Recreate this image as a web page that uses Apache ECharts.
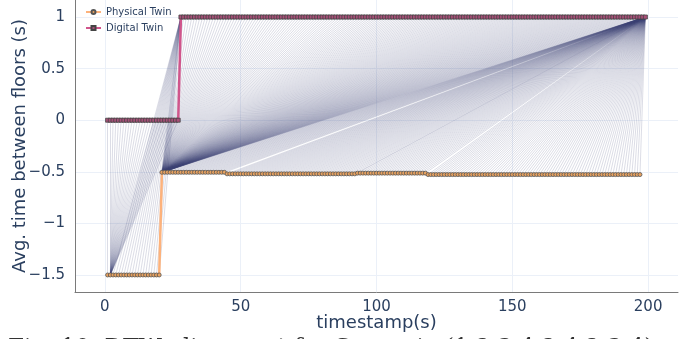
<!DOCTYPE html>
<html>
<head>
<meta charset="utf-8">
<script src="https://cdn.jsdelivr.net/npm/echarts@6/dist/echarts.min.js"></script>
<style>
  html, body { margin: 0; padding: 0; background: #fff; }
  #chart { width: 699px; height: 339px; }
</style>
</head>
<body>
<div id="chart"></div>
<script>
// plateaus: [first second, last second, value]
const physicalRuns = [
  [1, 20, -1.5],
  [21, 44, -0.505],
  [45, 92, -0.52],
  [93, 118, -0.513],
  [119, 197, -0.527]
];
const digitalRuns = [
  [1, 27, 0],
  [28, 199, 1]
];
// warping path pieces: [physical from, physical to, digital from, digital to]
const warpPath = [
  [1, 1, 1, 1],
  [2, 2, 2, 27],
  [3, 20, 28, 28],
  [21, 21, 28, 199],
  [22, 197, 199, 199]
];
const xTicks = [0, 50, 100, 150, 200];
const yTicks = [-1.5, -1, -0.5, 0, 0.5, 1];
const caption = 'Fig. 10. DTW alignment for Scenario (1,2,3,4,2,4,2,3,4)';

function expand(runs) {
  const pts = [];
  runs.forEach(([a, b, v]) => { for (let t = a; t <= b; t++) pts.push([t, v]); });
  return pts;
}
const physical = expand(physicalRuns);
const digital = expand(digitalRuns);
const valueAt = (pts, t) => pts.find(p => p[0] === t)[1];

const links = [];
warpPath.forEach(([p0, p1, d0, d1]) => {
  for (let i = p0; i <= p1; i++)
    for (let j = d0; j <= d1; j++)
      links.push({coords: [[i, valueAt(physical, i)], [j, valueAt(digital, j)]]});
});

const minus = v => (v < 0 ? '\u2212' + (-v) : String(v));
const textColor = '#2a3f5f';
const font = 'DejaVu Sans';

const myChart = echarts.init(document.getElementById('chart'));
myChart.setOption({
  animation: false,
  textStyle: {fontFamily: font, color: textColor},
  grid: {left: 75, right: 21, top: 0, bottom: 47, outerBoundsMode: 'none'},
  legend: {
    orient: 'vertical',
    left: 80,
    top: 2,
    itemWidth: 15,
    itemHeight: 5,
    itemGap: 6,
    textStyle: {fontSize: 10, color: textColor, fontFamily: font},
    data: ['Physical Twin', 'Digital Twin']
  },
  xAxis: {
    type: 'value',
    min: -11,
    max: 211,
    name: 'timestamp(s)',
    nameLocation: 'middle',
    nameGap: 22,
    nameMoveOverlap: false,
    nameTextStyle: {fontSize: 18, color: textColor, fontFamily: font},
    axisLine: {show: true, onZero: false, lineStyle: {color: '#7a7a7a', width: 1}},
    axisTick: {show: false, customValues: xTicks},
    axisLabel: {customValues: xTicks, fontSize: 15, color: textColor, margin: 8, fontFamily: font},
    splitLine: {show: true, lineStyle: {color: '#ebf0f8', width: 1}}
  },
  yAxis: {
    type: 'value',
    min: -1.665,
    max: 1.165,
    name: 'Avg. time between floors (s)',
    nameLocation: 'middle',
    nameGap: 46,
    nameMoveOverlap: false,
    nameTextStyle: {fontSize: 18, color: textColor, fontFamily: font},
    axisLine: {show: true, onZero: false, lineStyle: {color: '#7a7a7a', width: 1}},
    axisTick: {show: false, customValues: yTicks},
    axisLabel: {customValues: yTicks, formatter: minus, fontSize: 15, color: textColor, margin: 10, fontFamily: font},
    splitLine: {show: true, lineStyle: {color: '#ebf0f8', width: 1}}
  },
  graphic: [{
    type: 'text',
    left: 8,
    top: 337,
    style: {text: caption, font: '23px "DejaVu Serif"', fill: '#333'}
  }],
  series: [
    {
      type: 'lines',
      coordinateSystem: 'cartesian2d',
      silent: true,
      z: 1,
      data: links,
      lineStyle: {color: '#3d4175', width: 0.6, opacity: 0.3}
    },
    {
      type: 'line',
      name: 'Physical Twin',
      data: physical,
      z: 3,
      symbol: 'circle',
      symbolSize: 4,
      showAllSymbol: true,
      lineStyle: {color: '#fdb27b', width: 2.5},
      itemStyle: {color: '#e9a25f', borderColor: '#555', borderWidth: 0.8}
    },
    {
      type: 'line',
      name: 'Digital Twin',
      data: digital,
      z: 3,
      symbol: 'rect',
      symbolSize: 4,
      showAllSymbol: true,
      lineStyle: {color: '#d0558b', width: 2.5},
      itemStyle: {color: '#a84f78', borderColor: '#444', borderWidth: 0.8}
    }
  ]
});
</script>
</body>
</html>
